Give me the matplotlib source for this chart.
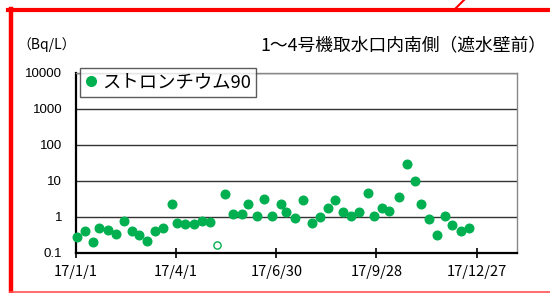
import numpy as np
import matplotlib
matplotlib.use("Agg")
import matplotlib.pyplot as plt
from matplotlib.lines import Line2D
from matplotlib.ticker import NullLocator

plt.rcParams['font.family'] = ['Noto Sans CJK JP', 'DejaVu Sans']

# measured values (Bq/L), strontium-90
dates = ['2017-01-02', '2017-01-09', '2017-01-16', '2017-01-22', '2017-01-30',
         '2017-02-06', '2017-02-13', '2017-02-20', '2017-02-27', '2017-03-06',
         '2017-03-13', '2017-03-20', '2017-03-28', '2017-04-02', '2017-04-09',
         '2017-04-17', '2017-04-24', '2017-05-01', '2017-05-15', '2017-05-22',
         '2017-05-30', '2017-06-05', '2017-06-13', '2017-06-19', '2017-06-26',
         '2017-07-04', '2017-07-09', '2017-07-17', '2017-07-24', '2017-08-01',
         '2017-08-08', '2017-08-15', '2017-08-22', '2017-08-29', '2017-09-05',
         '2017-09-12', '2017-09-20', '2017-09-26', '2017-10-03', '2017-10-09',
         '2017-10-18', '2017-10-25', '2017-11-02', '2017-11-07', '2017-11-14',
         '2017-11-21', '2017-11-29', '2017-12-05', '2017-12-13', '2017-12-20']
sr90 = [0.27, 0.40, 0.20, 0.49, 0.42,
        0.33, 0.78, 0.39, 0.31, 0.21,
        0.40, 0.49, 2.27, 0.69, 0.63,
        0.63, 0.76, 0.72, 4.27, 1.16,
        1.16, 2.27, 1.06, 3.11, 1.06,
        2.31, 1.33, 0.92, 2.92, 0.67,
        0.97, 1.80, 2.85, 1.34, 1.06,
        1.34, 4.63, 1.06, 1.69, 1.46,
        3.60, 28.3, 9.7, 2.27, 0.84,
        0.31, 1.06, 0.58, 0.40, 0.49]

# below detection limit (hollow marker)
nd_dates = ['2017-05-08']
nd_values = [0.167]

tick_dates = ['2017-01-01', '2017-04-01', '2017-06-30', '2017-09-28', '2017-12-27']
tick_labels = ['17/1/1', '17/4/1', '17/6/30', '17/9/28', '17/12/27']
y_ticks = [0.1, 1, 10, 100, 1000, 10000]
y_labels = ['0.1', '1', '10', '100', '1000', '10000']

green = '#00B050'

fig = plt.figure(figsize=(5.5, 2.93), dpi=100)
ax = fig.add_axes([76 / 550, 1 - 252.7 / 293, (516.7 - 76) / 550, (252.7 - 72.7) / 293])

x = np.array(dates, dtype='datetime64[D]')
xn = np.array(nd_dates, dtype='datetime64[D]')
ax.plot(x, sr90, 'o', color=green, ms=6.2, mec=green, clip_on=False, zorder=3)
ax.plot(xn, nd_values, 'o', mfc='white', mec=green, mew=1.0, ms=5.2, zorder=3)

ax.set_yscale('log')
ax.set_ylim(0.1, 10000)
ax.set_yticks(y_ticks)
ax.set_yticklabels(y_labels, family=['Liberation Sans', 'DejaVu Sans'], fontsize=9.5)
ax.yaxis.set_minor_locator(NullLocator())
ax.tick_params(axis='y', length=0, pad=10)

ax.set_xlim(np.datetime64('2017-01-01'), np.datetime64('2018-02-01'))
ax.set_xticks(np.array(tick_dates, dtype='datetime64[D]'))
ax.set_xticklabels(tick_labels, fontsize=10.5)
ax.xaxis.set_minor_locator(NullLocator())
ax.tick_params(axis='x', direction='inout', length=7, width=1.2, pad=5, color='black')

ax.set_axisbelow(True)
ax.yaxis.grid(True, color='#333333', lw=1.0)
for s in ['top', 'right']:
    ax.spines[s].set_color('#888888')
    ax.spines[s].set_linewidth(1.0)
for s in ['left', 'bottom']:
    ax.spines[s].set_color('black')
    ax.spines[s].set_linewidth(1.6)

handle = Line2D([], [], ls='none', marker='o', color=green, ms=7)
leg = ax.legend([handle], ['ストロンチウム90'], loc='upper left',
                bbox_to_anchor=(80 / 550, 1 - 67.7 / 293), bbox_transform=fig.transFigure,
                fontsize=13.2, frameon=True, fancybox=False, handlelength=0.6,
                handletextpad=0.3, borderpad=0.3, borderaxespad=0)
leg.get_frame().set_edgecolor('#333333')
leg.get_frame().set_linewidth(1.0)
leg.set_zorder(5)

fig.text(17 / 550, 1 - 45 / 293, '（Bq/L）', fontsize=10, va='center', ha='left')
fig.text(546 / 550, 1 - 45 / 293, '1～4号機取水口内南側（遮水壁前）', fontsize=12.8,
         va='center', ha='right')

# red frame around the chart
red = '#FF0000'
fig.add_artist(Line2D([8 / 550, 1.0], [1 - 10 / 293] * 2, color=red, lw=3, transform=fig.transFigure))
fig.add_artist(Line2D([10.5 / 550] * 2, [1 - 9 / 293, 1 - 292 / 293], color=red, lw=3.2,
                      transform=fig.transFigure))
fig.add_artist(Line2D([10 / 550, 1.0], [1 - 291.8 / 293] * 2, color='#FF5050', lw=1.2,
                      transform=fig.transFigure))
fig.add_artist(Line2D([456 / 550, 464 / 550], [1 - 8 / 293, 1.0], color=red, lw=1.5,
                      transform=fig.transFigure))

fig.savefig('out.png', dpi=100)
